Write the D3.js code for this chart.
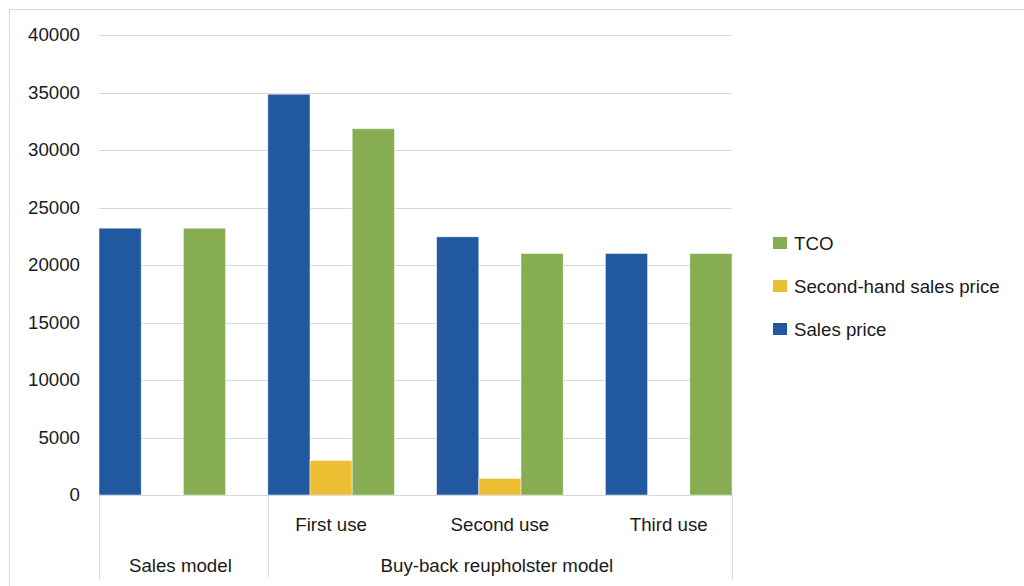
<!DOCTYPE html>
<html>
<head>
<meta charset="utf-8">
<script src="https://cdn.jsdelivr.net/npm/d3@7"></script>
<style>
  html, body { margin: 0; padding: 0; background: #fff; }
  svg { display: block; font-family: "Liberation Sans", Arial, sans-serif; }
</style>
</head>
<body>
<svg id="chart" width="1024" height="586"></svg>
<script>
// ---- data ----
const categories = ["Sales model", "First use", "Second use", "Third use"];
const parentLabels = ["Sales model", "Buy-back reupholster model"];
const parentOf = [0, 1, 1, 1];
const series = ["Sales price", "Second-hand sales price", "TCO"];
const salesPrice = [23200, 34850, 22450, 21000];
const secondHandPrice = [0, 3000, 1450, 0];
const tco = [23200, 31850, 21000, 21000];
const yTicks = [0, 5000, 10000, 15000, 20000, 25000, 30000, 35000, 40000];
const colors = ["#22589F", "#EDBE31", "#86AD51"];
const legendOrder = ["TCO", "Second-hand sales price", "Sales price"];

const values = [salesPrice, secondHandPrice, tco];

// ---- layout ----
const svg = d3.select("#chart");
const pLeft = 99, pRight = 732, pTop = 35, pBottom = 495;
const slotW = (pRight - pLeft) / 15;

svg.append("rect").attr("x", 9.5).attr("y", 9.5).attr("width", 1100).attr("height", 1100)
  .attr("fill", "none").attr("stroke", "#d9d9d9").attr("stroke-width", 1);

const y = d3.scaleLinear().domain([0, 40000]).range([pBottom, pTop]);
const x0 = d3.scaleBand().domain(categories).range([pLeft, pLeft + slotW * 16]).padding(0);
const x1 = d3.scaleBand().domain([...series, "_gap"]).range([0, slotW * 4]).padding(0);

// gridlines
svg.append("g").selectAll("line").data(yTicks.filter(d => d > 0)).join("line")
  .attr("x1", pLeft).attr("x2", pRight)
  .attr("y1", d => Math.round(y(d)) + 0.5).attr("y2", d => Math.round(y(d)) + 0.5)
  .attr("stroke", "#d9d9d9").attr("stroke-width", 1);

// y axis labels
const yAxis = d3.axisLeft(y).tickValues(yTicks).tickSize(0).tickPadding(0).tickFormat(d3.format("d"));
const yg = svg.append("g").attr("transform", `translate(80,0)`).call(yAxis);
yg.select(".domain").remove();
yg.selectAll("text").attr("font-size", "18.7px").attr("fill", "#1a1a1a")
  .attr("font-family", "'Liberation Sans', Arial, sans-serif");

// bars
const plot = svg.append("g");
plot.append("clipPath").attr("id", "clip").append("rect")
  .attr("x", pLeft).attr("y", 0).attr("width", pRight - pLeft).attr("height", pBottom);
const groups = plot.append("g").attr("clip-path", "url(#clip)")
  .selectAll("g").data(categories).join("g")
  .attr("transform", d => `translate(${x0(d)},0)`);
groups.selectAll("rect").data((c, i) => series.map((s, k) => ({ s, k, v: values[k][i] })).filter(d => d.v > 0))
  .join("rect")
  .attr("x", d => x1(d.s))
  .attr("width", x1.bandwidth())
  .attr("y", d => y(d.v))
  .attr("height", d => pBottom - y(d.v))
  .attr("fill", d => colors[d.k])
  .attr("stroke", "rgba(255,255,255,0.6)").attr("stroke-width", 0.8);

// x axis baseline
svg.append("line").attr("x1", pLeft).attr("x2", pRight).attr("y1", pBottom + 0.5).attr("y2", pBottom + 0.5)
  .attr("stroke", "#d9d9d9");

// separators
const sepXs = [pLeft, x0("First use"), pRight];
const sepBottoms = [580, 577, 580];
svg.append("g").selectAll("line").data(sepXs).join("line")
  .attr("x1", d => Math.round(d) + 0.5).attr("x2", d => Math.round(d) + 0.5)
  .attr("y1", pBottom).attr("y2", (d, i) => sepBottoms[i])
  .attr("stroke", "#d9d9d9");

// category labels (second level)
svg.append("g").selectAll("text").data(categories.slice(1)).join("text")
  .attr("x", d => x0(d) + slotW * 1.5)
  .attr("y", 531)
  .attr("text-anchor", "middle").attr("font-size", "18.7px").attr("fill", "#1a1a1a")
  .text(d => d);

// parent labels
const parentSpans = parentLabels.map((p, pi) => {
  const idx = categories.map((c, i) => i).filter(i => parentOf[i] === pi);
  const a = x0(categories[idx[0]]);
  const b = Math.min(x0(categories[idx[idx.length - 1]]) + x0.bandwidth(), pRight);
  return { p, a, b };
});
svg.append("g").selectAll("text").data(parentSpans).join("text")
  .attr("x", d => (d.a + d.b) / 2 - 3)
  .attr("y", 572)
  .attr("text-anchor", "middle").attr("font-size", "18.7px").attr("fill", "#1a1a1a")
  .text(d => d.p);

// legend
const lg = svg.append("g").selectAll("g").data(legendOrder).join("g")
  .attr("transform", (d, i) => `translate(773, ${243 + i * 43})`);
lg.append("rect").attr("x", 0).attr("y", -6).attr("width", 14).attr("height", 12)
  .attr("fill", d => colors[series.indexOf(d)]);
lg.append("text").attr("x", 21).attr("y", 0).attr("dy", "0.35em")
  .attr("font-size", "18.7px").attr("fill", "#1a1a1a").text(d => d);
</script>
</body>
</html>
